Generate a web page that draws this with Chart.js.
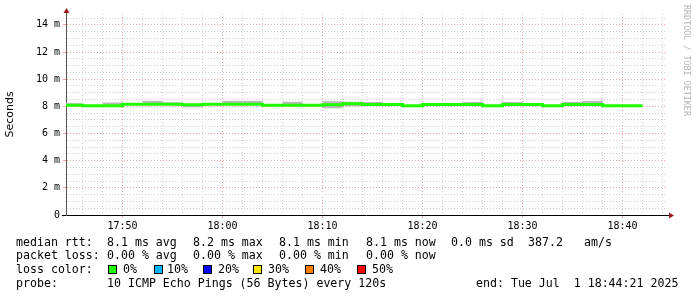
<!DOCTYPE html>
<html>
<head>
<meta charset="utf-8">
<script src="https://cdn.jsdelivr.net/npm/chart.js@4.4.1/dist/chart.umd.min.js"></script>
<style>
  html, body { margin: 0; padding: 0; background: #fff; }
  #wrap { position: relative; width: 697px; height: 297px; overflow: hidden; background: #fff; }
  #chart { position: absolute; left: 0; top: 0; }
  .lg { position: absolute; font-family: "DejaVu Sans Mono", monospace; font-size: 11.6px; line-height: 14px; color: #000; white-space: pre; }
  .sw { position: absolute; width: 9px; height: 9px; box-sizing: border-box; border: 1px solid #000; }
  .wm { position: absolute; left: 682px; top: 5px; writing-mode: vertical-rl; font-family: "DejaVu Sans Mono", monospace; font-size: 8.4px; color: #b4b4b4; white-space: pre; }
</style>
</head>
<body>
<div id="wrap">
  <canvas id="chart" width="697" height="297"></canvas>
  <div class="wm">RRDTOOL / TOBI OETIKER</div>
</div>
<script>
// step boundaries (2 minute rrd steps), last entry closes the final step
const times = ['17:44:21', '17:46', '17:48', '17:50', '17:52', '17:54', '17:56', '17:58',
               '18:00', '18:02', '18:04', '18:06', '18:08', '18:10', '18:12', '18:14',
               '18:16', '18:18', '18:20', '18:22', '18:24', '18:26', '18:28', '18:30',
               '18:32', '18:34', '18:36', '18:38', '18:40', '18:42'];

// median rtt in ms
const medianRtt = [8.20, 8.08, 8.05, 8.05, 8.15, 8.15, 8.15, 8.12, 8.15, 8.15,
                   8.15, 8.08, 8.08, 8.08, 8.12, 8.20, 8.13, 8.13, 8.05, 8.13,
                   8.13, 8.13, 8.05, 8.13, 8.13, 8.05, 8.13, 8.13, 8.05];

// smoke band (spread of the individual pings)
const smokeHigh = [8.22, 8.22, 8.08, 8.28, 8.17, 8.39, 8.31, 8.14, 8.17, 8.39,
                   8.39, 8.10, 8.34, 8.10, 8.38, 8.33, 8.32, 8.15, 8.08, 8.15,
                   8.15, 8.32, 8.08, 8.32, 8.24, 8.08, 8.32, 8.39, 8.08];
const smokeLow  = [8.18, 8.06, 8.02, 8.03, 8.13, 8.13, 8.13, 7.93, 8.13, 8.13,
                   8.13, 8.06, 8.06, 8.06, 7.86, 8.00, 8.10, 8.10, 8.02, 8.10,
                   8.10, 8.10, 8.02, 8.10, 8.10, 8.02, 8.10, 8.10, 8.02];

const xRange = ['17:44:21', '18:44:21'];
const xLabels = ['17:50', '18:00', '18:10', '18:20', '18:30', '18:40'];
const yMax = 14.8;
const yLabelValues = [0, 2, 4, 6, 8, 10, 12, 14];

const lossColors = [['0%', '#20ff00'], ['10%', '#00b8ff'], ['20%', '#0000ff'],
                    ['30%', '#ffe800'], ['40%', '#ff8000'], ['50%', '#ff0000']];

// minutes since 17:00
function toMin(t) {
    const p = t.split(':').map(Number);
    return (p[0] - 17) * 60 + p[1] + (p[2] || 0) / 60;
}

function stepData(values) {
    const pts = values.map((v, i) => ({ x: toMin(times[i]), y: v }));
    pts.push({ x: toMin(times[times.length - 1]), y: values[values.length - 1] });
    return pts;
}

const majorX = xLabels.map(toMin);
const minorGrid = '#cfcfcf';
const majorGrid = '#eba3a3';
const arrowColor = '#9b1c1c';

const arrows = {
    id: 'arrows',
    afterDraw(chart) {
        const { ctx, chartArea: a } = chart;
        ctx.save();
        ctx.strokeStyle = '#000';
        ctx.lineWidth = 1;
        ctx.beginPath();
        ctx.moveTo(a.right, 215.5);
        ctx.lineTo(a.right + 4, 215.5);
        ctx.moveTo(62, 215.5);
        ctx.lineTo(a.left, 215.5);
        ctx.stroke();
        ctx.strokeStyle = '#555';
        ctx.beginPath();
        ctx.moveTo(66.5, a.top);
        ctx.lineTo(66.5, a.top - 3);
        ctx.stroke();
        ctx.fillStyle = arrowColor;
        ctx.beginPath();
        ctx.moveTo(63.5, 13);
        ctx.lineTo(69.5, 13);
        ctx.lineTo(66.5, 8);
        ctx.closePath();
        ctx.fill();
        ctx.beginPath();
        ctx.moveTo(669, 212.5);
        ctx.lineTo(669, 218.5);
        ctx.lineTo(674, 215.5);
        ctx.closePath();
        ctx.fill();
        ctx.restore();
    }
};

new Chart(document.getElementById('chart'), {
    type: 'line',
    data: {
        datasets: [
            {
                data: stepData(medianRtt),
                stepped: 'after',
                borderColor: '#20ff00',
                borderWidth: 3,
                pointRadius: 0,
                fill: false
            },
            {
                data: stepData(smokeLow),
                stepped: 'after',
                borderWidth: 0,
                borderColor: 'rgba(0,0,0,0)',
                pointRadius: 0,
                fill: false
            },
            {
                data: stepData(smokeHigh),
                stepped: 'after',
                borderWidth: 0,
                borderColor: 'rgba(0,0,0,0)',
                backgroundColor: '#b9b9b9',
                pointRadius: 0,
                fill: '-1'
            }
        ]
    },
    options: {
        responsive: false,
        animation: false,
        devicePixelRatio: 1,
        layout: { padding: { left: 0, top: 14, right: 31, bottom: 0 } },
        plugins: { legend: { display: false }, tooltip: { enabled: false } },
        scales: {
            x: {
                type: 'linear',
                min: toMin(xRange[0]),
                max: toMin(xRange[1]),
                afterBuildTicks: s => {
                    const ticks = [];
                    for (let m = toMin('17:46'); m <= toMin('18:44'); m += 2) ticks.push({ value: m });
                    s.ticks = ticks;
                },
                afterFit: s => { s.height = 82; },
                grid: {
                    color: c => majorX.includes(c.tick.value) ? majorGrid : minorGrid,
                    lineWidth: 1,
                    drawTicks: true,
                    tickLength: 3,
                    tickColor: c => majorX.includes(c.tick.value) ? majorGrid : 'rgba(0,0,0,0)'
                },
                border: { display: true, color: '#000', width: 1, dash: [1, 2] },
                ticks: {
                    autoSkip: false,
                    maxRotation: 0,
                    padding: 2,
                    color: '#000',
                    font: { family: 'DejaVu Sans Mono', size: 10 },
                    callback: v => {
                        const i = majorX.indexOf(v);
                        return i >= 0 ? xLabels[i] : '';
                    }
                }
            },
            y: {
                min: 0,
                max: yMax,
                afterBuildTicks: s => {
                    const ticks = [];
                    for (let v = 0; v <= 14.5; v += 0.5) ticks.push({ value: v });
                    s.ticks = ticks;
                },
                afterFit: s => { s.width = 66; },
                grid: {
                    color: c => c.tick.value === 0 ? 'rgba(0,0,0,0)' :
                        (yLabelValues.includes(c.tick.value) ? majorGrid : minorGrid),
                    lineWidth: 1,
                    drawTicks: true,
                    tickLength: 3,
                    tickColor: c => (yLabelValues.includes(c.tick.value) && c.tick.value !== 0) ? majorGrid : 'rgba(0,0,0,0)'
                },
                border: { display: true, color: '#555', width: 1, dash: [1, 2] },
                title: {
                    display: true,
                    text: 'Seconds',
                    color: '#000',
                    font: { family: 'DejaVu Sans', size: 11 },
                    padding: { top: 4, bottom: 0 }
                },
                ticks: {
                    autoSkip: false,
                    padding: 3,
                    color: '#000',
                    font: { family: 'DejaVu Sans Mono', size: 10 },
                    callback: v => yLabelValues.includes(v) ? (v === 0 ? '0' : v + ' m') : ''
                }
            }
        }
    },
    plugins: [arrows]
});

// legend text under the graph
const legendLines = [
    [[16, 'median rtt:'], [107, '8.1 ms avg'], [193, '8.2 ms max'], [279, '8.1 ms min'],
     [366, '8.1 ms now'], [451, '0.0 ms sd'], [528, '387.2'], [584, 'am/s']],
    [[16, 'packet loss:'], [107, '0.00 % avg'], [193, '0.00 % max'], [279, '0.00 % min'],
     [366, '0.00 % now']],
    [[16, 'loss color:']],
    [[16, 'probe:'], [107, '10 ICMP Echo Pings (56 Bytes) every 120s'],
     [476, 'end: Tue Jul  1 18:44:21 2025']]
];
const lineTops = [235, 248, 262, 276];
const swatchX = [108, 154, 203, 253, 305, 357];
const swatchTextX = [123, 167, 218, 268, 320, 372];

const wrap = document.getElementById('wrap');
legendLines.forEach((line, li) => {
    line.forEach(([x, txt]) => {
        const d = document.createElement('div');
        d.className = 'lg';
        d.style.left = x + 'px';
        d.style.top = lineTops[li] + 'px';
        d.textContent = txt;
        wrap.appendChild(d);
    });
});
lossColors.forEach(([label, color], i) => {
    const s = document.createElement('div');
    s.className = 'sw';
    s.style.left = swatchX[i] + 'px';
    s.style.top = '265px';
    s.style.background = color;
    wrap.appendChild(s);
    const t = document.createElement('div');
    t.className = 'lg';
    t.style.left = swatchTextX[i] + 'px';
    t.style.top = lineTops[2] + 'px';
    t.textContent = label;
    wrap.appendChild(t);
});
</script>
</body>
</html>
